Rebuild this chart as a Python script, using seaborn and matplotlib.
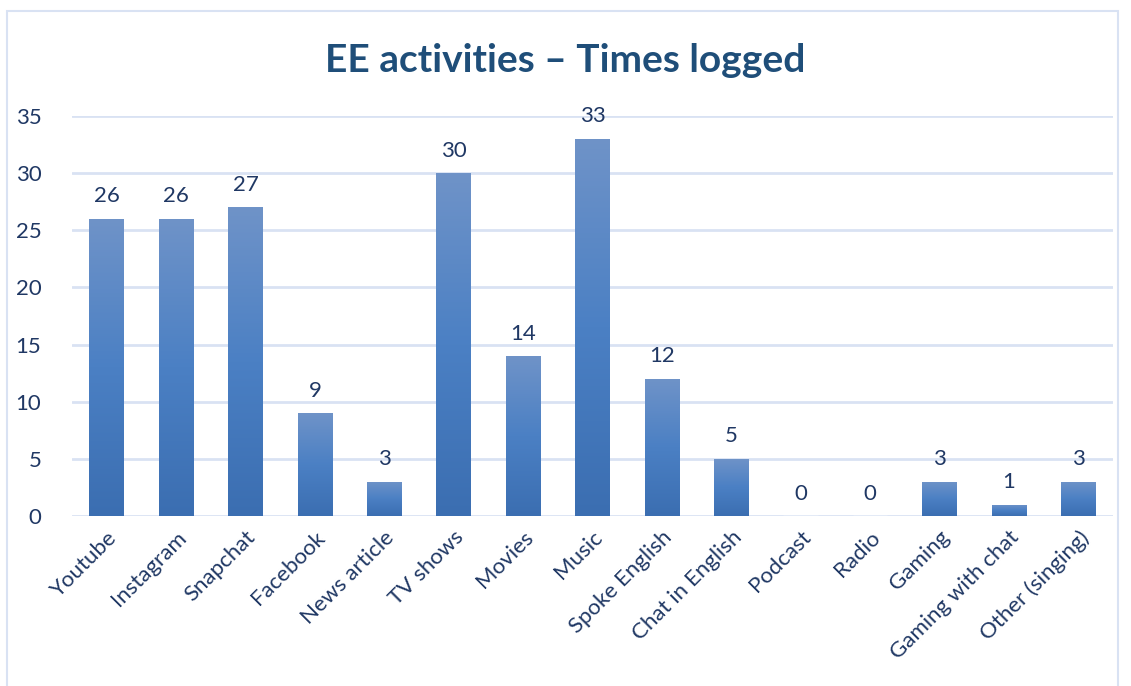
import matplotlib
matplotlib.use("Agg")
import matplotlib.pyplot as plt
import seaborn as sns
import numpy as np
import pandas as pd
from matplotlib.patches import Rectangle
from matplotlib.colors import LinearSegmentedColormap

categories = ["Youtube", "Instagram", "Snapchat", "Facebook", "News article", "TV shows",
              "Movies", "Music", "Spoke English", "Chat in English", "Podcast", "Radio",
              "Gaming", "Gaming with chat", "Other (singing)"]
values = [26, 26, 27, 9, 3, 30, 14, 33, 12, 5, 0, 0, 3, 1, 3]
yticks = [0, 5, 10, 15, 20, 25, 30, 35]
title = "EE activities \u2013 Times logged"

sns.set_theme(style="white")
plt.rcParams['font.family'] = ['Lato', 'DejaVu Sans']

text_col = "#203864"
grid_col = "#d9e2f3"

fig = plt.figure(figsize=(11.31, 6.86), dpi=100)
fig.patches.append(Rectangle((7/1131, -0.01), (1118-7)/1131, (686-11)/686 + 0.01,
                             transform=fig.transFigure, fill=False,
                             edgecolor=grid_col, linewidth=1.5))
ax = fig.add_axes([72/1131, (686-516)/686, (1113-72)/1131, (516-116)/686])

df = pd.DataFrame({"cat": categories, "val": values})
sns.barplot(data=df, x="cat", y="val", ax=ax, color="#4a7ebf", width=0.5, saturation=1)

ax.set_xlim(-0.5, len(categories) - 0.5)
ax.set_ylim(0, 35)
ax.set_yticks(yticks)
ax.set_yticklabels([str(t) for t in yticks])
ax.set_xlabel("")
ax.set_ylabel("")
for s in ax.spines.values():
    s.set_visible(False)
ax.grid(False)
for t in yticks:
    ax.axhline(t, color=grid_col, linewidth=2, zorder=0)

# gradient fill
cmap = LinearSegmentedColormap.from_list("g", ["#3b6eb1", "#4b80c4", "#6f93c8"])
grad = np.linspace(0, 1, 256).reshape(-1, 1)
for p in list(ax.patches):
    x0, y0 = p.get_x(), p.get_y()
    w, h = p.get_width(), p.get_height()
    if h <= 0:
        continue
    p.set_facecolor("none")
    p.set_edgecolor("none")
    im = ax.imshow(grad, cmap=cmap, aspect="auto", origin="lower",
                   extent=[x0, x0 + w, y0, y0 + h], zorder=2, interpolation="bilinear")
    im.set_clip_path(p)
ax.set_xlim(-0.5, len(categories) - 0.5)
ax.set_ylim(0, 35)

for i, v in enumerate(values):
    ax.annotate(str(v), (i, v), xytext=(0, 9), textcoords="offset points",
                ha="center", va="bottom", fontsize=16, color=text_col)

ax.tick_params(axis="y", labelsize=16, labelcolor=text_col, length=0, pad=22)
ax.tick_params(axis="x", labelsize=16, labelcolor=text_col, length=0, pad=8)
for lbl in ax.get_xticklabels():
    lbl.set_rotation(45)
    lbl.set_ha("right")
    lbl.set_rotation_mode("anchor")

fig.text(0.5, (686-60)/686, title, ha="center", va="center", fontsize=28,
         fontweight="bold", color="#1f4e79")

fig.savefig("out.png", dpi=100)
